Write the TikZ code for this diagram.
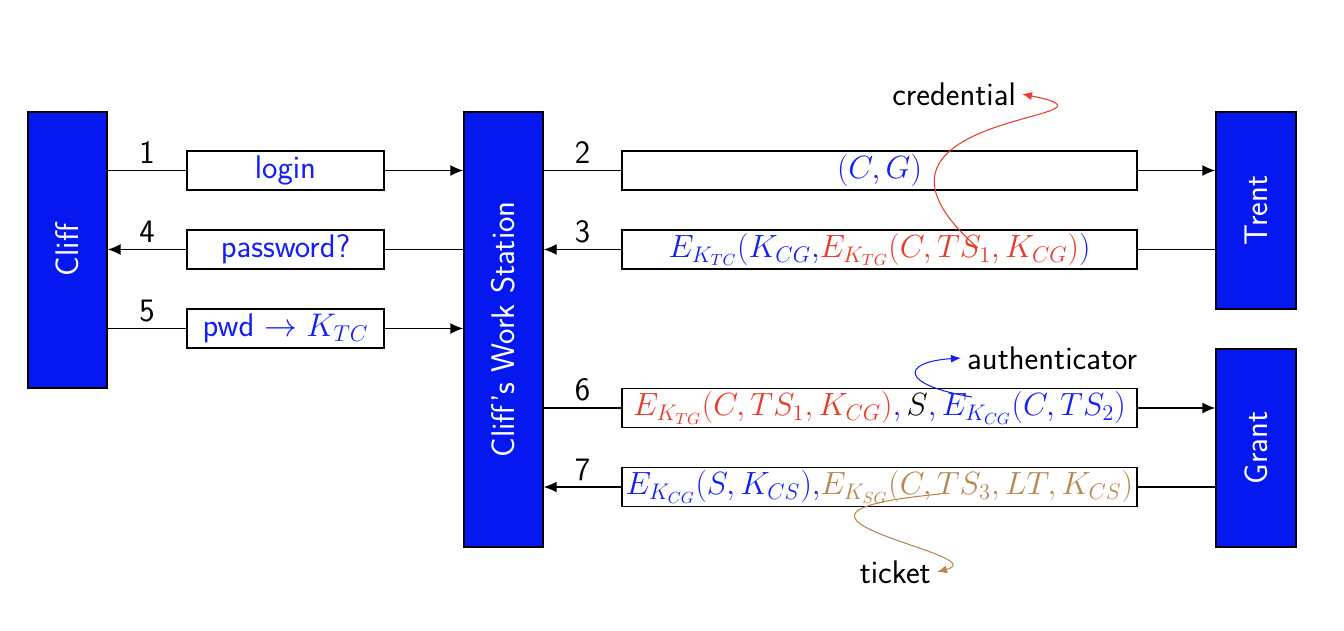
\RequirePackage{fix-cm}
\documentclass[tikz,border=0pt]{standalone}
\usepackage{amsmath,amssymb}
\usetikzlibrary{arrows.meta}
\definecolor{agentblue}{RGB}{6,24,240}
\definecolor{msgblue}{RGB}{20,30,245}
\definecolor{credred}{RGB}{232,58,43}
\definecolor{tktbrown}{RGB}{184,134,82}

\begin{document}
\begin{tikzpicture}[
  font=\fontsize{18.6}{22}\selectfont\sffamily,
  agent/.style={draw=black, fill=agentblue, text=white, line width=0.8pt, inner sep=0pt, rotate=90},
  msg/.style={draw=black, fill=white, line width=0.8pt, minimum height=0.78cm, inner sep=0pt, text=msgblue},
  wide/.style={msg, minimum width=10.3cm, font=\fontsize{18.3}{22}\selectfont},
  link/.style={line width=0.8pt},
  arr/.style={line width=0.8pt, -{Latex[length=2.6mm,width=2.2mm]}},
  note/.style={line width=0.6pt, -{Latex[length=2mm,width=1.6mm]}}
]
\useasboundingbox (0,0) rectangle (26.88,12.6);

% principals
\node[agent, minimum width=5.52cm, minimum height=1.58cm] (cliff) at (1.35,7.6) {Cliff};
\node[agent, minimum width=8.7cm, minimum height=1.58cm] (ws) at (10.07,6.01) {Cliff’s Work Station};
\node[agent, minimum width=3.94cm, minimum height=1.6cm] (trent) at (25.12,8.39) {Trent};
\node[agent, minimum width=3.96cm, minimum height=1.6cm] (grant) at (25.12,3.64) {Grant};

% messages between Cliff and the work station
\node[msg, minimum width=3.94cm] (m1) at (5.71,9.19) {login};
\node[msg, minimum width=3.94cm] (m4) at (5.71,7.61) {password?};
\node[msg, minimum width=3.94cm] (m5) at (5.71,6.03) {pwd $\rightarrow K_{TC}$};

% messages with Trent and Grant
\node[wide] (m2) at (17.59,9.19) {$(C,G)$};
\node[wide] (m3) at (17.59,7.61) {$E_{K_{TC}}(K_{CG}{,}\textcolor{credred}{E_{K_{TG}}(C,TS_1,K_{CG})})$};
\node[wide] (m6) at (17.59,4.44) {$\textcolor{credred}{E_{K_{TG}}(C,TS_1,K_{CG})},\textcolor{black}{S},E_{K_{CG}}(C,TS_2)$};
\node[wide] (m7) at (17.59,2.86) {$E_{K_{CG}}(S,K_{CS}){,}\textcolor{tktbrown}{E_{K_{SG}}(C,TS_3,LT,K_{CS})}$};

% steps 1, 4, 5
\draw[link] (cliff.south |- m1) -- node[above]{1} (m1.west);
\draw[arr] (m1.east) -- (ws.north |- m1);
\draw[link] (ws.north |- m4) -- (m4.east);
\draw[arr] (m4.west) -- node[above]{4} (cliff.south |- m4);
\draw[link] (cliff.south |- m5) -- node[above]{5} (m5.west);
\draw[arr] (m5.east) -- (ws.north |- m5);

% steps 2, 3, 6, 7
\draw[link] (ws.south |- m2) -- node[above]{2} (m2.west);
\draw[arr] (m2.east) -- (trent.north |- m2);
\draw[link] (trent.north |- m3) -- (m3.east);
\draw[arr] (m3.west) -- node[above]{3} (ws.south |- m3);
\draw[link] (ws.south |- m6) -- node[above]{6} (m6.west);
\draw[arr] (m6.east) -- (grant.north |- m6);
\draw[link] (grant.north |- m7) -- (m7.east);
\draw[arr] (m7.west) -- node[above]{7} (ws.south |- m7);

% annotations
\node[anchor=east] (cred) at (20.44,10.72) {credential};
\coordinate (c3) at (19.56,7.64);
\draw[note, credred] (c3) .. controls (16.4,10.4) and (23.0,10.2) .. (cred.east);

\node[anchor=west] (auth) at (19.22,5.44) {authenticator};
\coordinate (c6) at (19.44,4.66);
\draw[note, msgblue] (c6) .. controls (18.0,4.9) and (18.0,5.36) .. (auth.west);

\node[anchor=east] (tkt) at (18.74,1.16) {ticket};
\coordinate (c7) at (18.8,2.72);
\draw[note, tktbrown] (c7) .. controls (14.4,2.3) and (20.0,1.5) .. (tkt.east);
\end{tikzpicture}
\end{document}
